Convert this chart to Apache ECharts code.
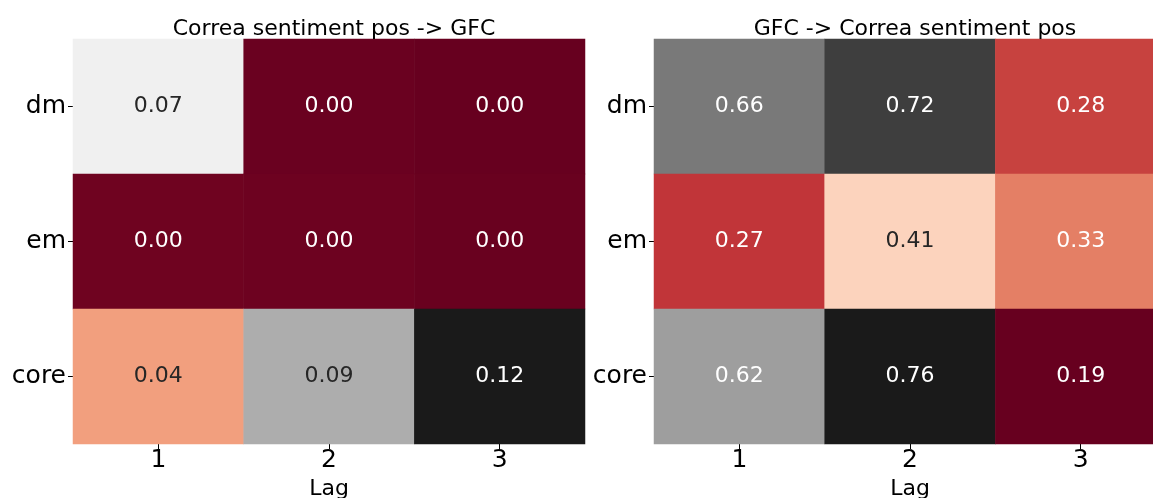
<!DOCTYPE html>
<html><head><meta charset="utf-8">
<script src="https://cdn.jsdelivr.net/npm/echarts@6/dist/echarts.min.js"></script>
<style>html,body{margin:0;padding:0;background:#fff}#c{width:1153px;height:498px}</style>
</head><body><div id="c"></div>
<script>
const lags = ['1', '2', '3'];
const rows = ['dm', 'em', 'core'];
const titleLeft = 'Correa sentiment pos -> GFC';
const titleRight = 'GFC -> Correa sentiment pos';
const xName = 'Lag';
// values [row][lag]
const leftDm = [0.066, 0.0005, 0.0000];
const leftEm = [0.0013, 0.0010, 0.0003];
const leftCore = [0.035, 0.087, 0.12];
const rightDm = [0.66, 0.72, 0.28];
const rightEm = [0.27, 0.41, 0.33];
const rightCore = [0.62, 0.76, 0.19];

const RdGy = ['#67001f','#b2182b','#d6604d','#f4a582','#fddbc7','#ffffff','#e0e0e0','#bababa','#878787','#4d4d4d','#1a1a1a'];
const FONT = 'DejaVu Sans';

function hex(c){return [parseInt(c.slice(1,3),16),parseInt(c.slice(3,5),16),parseInt(c.slice(5,7),16)];}
function cmap(t){
  t = Math.max(0, Math.min(1, t));
  const p = t * (RdGy.length - 1);
  const i = Math.min(Math.floor(p), RdGy.length - 2);
  const f = p - i;
  const a = hex(RdGy[i]), b = hex(RdGy[i+1]);
  return a.map((v,k)=>v + (b[k]-v)*f);
}
function lum(rgb){
  const l = rgb.map(v=>{v/=255;return v<=0.03928? v/12.92 : Math.pow((v+0.055)/1.055,2.4);});
  return 0.2126*l[0]+0.7152*l[1]+0.0722*l[2];
}
function build(mat){
  const all = mat.flat();
  const mn = Math.min(...all), mx = Math.max(...all);
  const data = [];
  mat.forEach((row, r) => row.forEach((v, c) => {
    const col = cmap((v - mn) / (mx - mn));
    data.push({value: [c, r, v], label: {color: lum(col) > 0.408 ? '#262626' : '#ffffff'}});
  }));
  return {data, mn, mx};
}
const L = build([leftDm, leftEm, leftCore]);
const R = build([rightDm, rightEm, rightCore]);

const grids = [
  {left: 73, top: 39, width: 512, height: 405, outerBoundsMode: 'none', containLabel: false},
  {left: 654, top: 39, width: 512, height: 405, outerBoundsMode: 'none', containLabel: false}
];
function xAx(i){
  return {type:'category', gridIndex:i, data:lags, position:'bottom',
    axisLine:{show:false}, splitArea:{show:false},
    axisTick:{show:true, alignWithLabel:true, length:5, lineStyle:{color:'#000'}},
    axisLabel:{fontFamily:FONT, fontSize:25, color:'#000', margin:4},
    name:xName, nameLocation:'middle', nameGap:31,
    nameTextStyle:{fontFamily:FONT, fontSize:22, color:'#000'}};
}
function yAx(i){
  return {type:'category', gridIndex:i, data:rows, inverse:true,
    axisLine:{show:false}, splitArea:{show:false},
    axisTick:{show:true, alignWithLabel:true, length:5, lineStyle:{color:'#000'}},
    axisLabel:{fontFamily:FONT, fontSize:25, color:'#000', margin:7}};
}
function ser(i, d){
  return {type:'heatmap', xAxisIndex:i, yAxisIndex:i, data:d.data,
    itemStyle:{borderWidth:0},
    label:{show:true, fontFamily:FONT, fontSize:22, formatter:p=>p.value[2].toFixed(2)},
    emphasis:{disabled:true}};
}
const chart = echarts.init(document.getElementById('c'), null, {renderer:'canvas'});
chart.setOption({
  animation:false,
  backgroundColor:'#fff',
  title:[
    {text:titleLeft, left:329, top:13, textAlign:'center', textStyle:{fontFamily:FONT, fontSize:22, fontWeight:'normal', color:'#000'}},
    {text:titleRight, left:910, top:13, textAlign:'center', textStyle:{fontFamily:FONT, fontSize:22, fontWeight:'normal', color:'#000'}}
  ],
  grid:grids,
  xAxis:[xAx(0), xAx(1)],
  yAxis:[yAx(0), yAx(1)],
  visualMap:[
    {show:false, seriesIndex:0, dimension:2, min:L.mn, max:L.mx, inRange:{color:RdGy}},
    {show:false, seriesIndex:1, dimension:2, min:R.mn, max:R.mx, inRange:{color:RdGy}}
  ],
  series:[ser(0, L), ser(1, R)]
});
</script></body></html>
